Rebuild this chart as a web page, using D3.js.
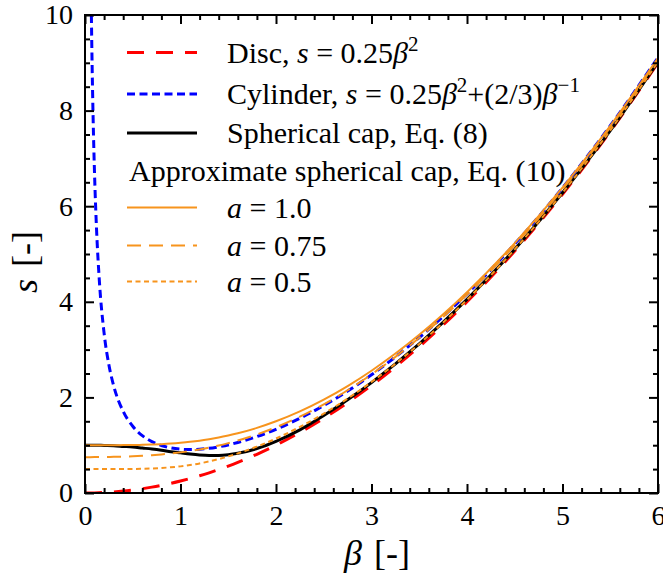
<!DOCTYPE html>
<html>
<head>
<meta charset="utf-8">
<script src="https://cdn.jsdelivr.net/npm/d3@7/dist/d3.min.js"></script>
<style>
  html, body { margin: 0; padding: 0; background: #ffffff; }
  svg { display: block; }
  svg text { font-family: "Liberation Serif", "Times New Roman", serif; }
</style>
</head>
<body>
<svg id="chart" width="663" height="580"></svg>
<script>
// ---------------- data ----------------
const betaGrid = [0, 0.1, 0.2, 0.3, 0.4, 0.5, 0.6, 0.7, 0.8, 0.9, 1.0, 1.1, 1.2, 1.3, 1.4, 1.5, 1.6, 1.8, 2.0, 2.25, 2.5, 2.75, 3.0, 3.5, 4.0, 4.5, 5.0, 5.5, 6.0];
const discS = [0, 0.0025, 0.01, 0.0225, 0.04, 0.0625, 0.09, 0.1225, 0.16, 0.2025, 0.25, 0.3025, 0.36, 0.4225, 0.49, 0.5625, 0.64, 0.81, 1.0, 1.266, 1.5625, 1.891, 2.25, 3.0625, 4.0, 5.0625, 6.25, 7.5625, 9.0];
const capS = [1.0, 1.0, 0.995, 0.99, 0.975, 0.96, 0.94, 0.92, 0.895, 0.865, 0.84, 0.815, 0.795, 0.785, 0.785, 0.80, 0.83, 0.93, 1.08, 1.32, 1.62, 1.95, 2.31, 3.12, 4.05, 5.1, 6.28, 7.58, 9.02];
const approxA10 = [1.0, 1.0, 1.0, 1.0, 1.002, 1.004, 1.007, 1.013, 1.022, 1.034, 1.05, 1.07, 1.095, 1.126, 1.161, 1.203, 1.25, 1.362, 1.5, 1.707, 1.953, 2.237, 2.558, 3.309, 4.2, 5.228, 6.388, 7.68, 9.1];
const approxA075 = [0.75, 0.751, 0.753, 0.756, 0.761, 0.768, 0.778, 0.791, 0.807, 0.826, 0.85, 0.878, 0.911, 0.95, 0.993, 1.043, 1.097, 1.224, 1.375, 1.597, 1.855, 2.15, 2.481, 3.247, 4.15, 5.186, 6.353, 7.65, 9.075];
const approxA05 = [0.5, 0.5, 0.5, 0.5, 0.501, 0.503, 0.507, 0.514, 0.524, 0.538, 0.557, 0.584, 0.618, 0.661, 0.71, 0.766, 0.828, 0.971, 1.139, 1.383, 1.661, 1.975, 2.323, 3.118, 4.044, 5.098, 6.279, 7.587, 9.02];

const cylBeta = [0.0667, 0.075, 0.085, 0.1, 0.12, 0.15, 0.2, 0.25, 0.3, 0.4, 0.5, 0.6, 0.7, 0.8, 0.9, 1.0, 1.1, 1.2, 1.4, 1.6, 1.8, 2.0, 2.5, 3.0, 3.5, 4.0, 4.5, 5.0, 5.5, 6.0];
const cylS = [10.0, 8.89, 7.845, 6.669, 5.559, 4.45, 3.343, 2.682, 2.245, 1.707, 1.396, 1.201, 1.075, 0.993, 0.943, 0.917, 0.909, 0.916, 0.966, 1.057, 1.18, 1.333, 1.829, 2.472, 3.253, 4.167, 5.211, 6.383, 7.684, 9.111];

const xMajorTicks = [0, 1, 2, 3, 4, 5, 6];
const yMajorTicks = [0, 2, 4, 6, 8, 10];

// ---------------- layout ----------------
const svg = d3.select("#chart");
const L = 85, R = 658, T = 15, B = 493;
const x = d3.scaleLinear().domain([0, 6]).range([L, R]);
const y = d3.scaleLinear().domain([0, 10]).range([B, T]);

const xMinor = d3.range(0, 6.0001, 0.2).map(v => +v.toFixed(2)).filter(v => !xMajorTicks.includes(v));
const yMinor = d3.range(0, 10.0001, 0.5).map(v => +v.toFixed(2)).filter(v => !yMajorTicks.includes(v));

svg.append("defs").append("clipPath").attr("id", "plotclip")
  .append("rect").attr("x", L).attr("y", T - 1).attr("width", R - L).attr("height", B - T + 1);

// ---------------- series ----------------
const series = [
  { b: betaGrid, s: discS, color: "#ff0000", w: 3, dash: "17,12" },
  { b: cylBeta, s: cylS, color: "#0000ff", w: 3, dash: "8,4.5" },
  { b: betaGrid, s: capS, color: "#000000", w: 3, dash: null },
  { b: betaGrid, s: approxA10, color: "#f7941d", w: 2, dash: null },
  { b: betaGrid, s: approxA075, color: "#f7941d", w: 2, dash: "14,8" },
  { b: betaGrid, s: approxA05, color: "#f7941d", w: 2, dash: "5,3.5" }
];

const line = d3.line().x(d => x(d[0])).y(d => y(d[1])).curve(d3.curveMonotoneX);
const gLines = svg.append("g").attr("clip-path", "url(#plotclip)");
series.forEach(sr => {
  const pts = sr.b.map((b, i) => [b, sr.s[i]]);
  gLines.append("path").datum(pts)
    .attr("d", line)
    .attr("fill", "none")
    .attr("stroke", sr.color)
    .attr("stroke-width", sr.w)
    .attr("stroke-dasharray", sr.dash)
    .attr("stroke-linejoin", "round");
});

// ---------------- axes ----------------
function styleAxis(g) {
  g.select(".domain").remove();
  g.attr("font-family", null);
  g.selectAll(".tick line").attr("stroke", "#000").attr("stroke-width", 2);
  g.selectAll(".tick text").attr("font-size", 28).attr("fill", "#000")
    .style("font-family", "'Liberation Serif', 'Times New Roman', serif");
}
// bottom
svg.append("g").attr("transform", `translate(0,${B})`)
  .call(d3.axisBottom(x).tickValues(xMajorTicks).tickSize(-9).tickPadding(12).tickFormat(d3.format("d")))
  .call(styleAxis);
svg.append("g").attr("transform", `translate(0,${B})`)
  .call(d3.axisBottom(x).tickValues(xMinor).tickSize(-5).tickFormat(""))
  .call(styleAxis);
// top
svg.append("g").attr("transform", `translate(0,${T})`)
  .call(d3.axisTop(x).tickValues(xMajorTicks).tickSize(-9).tickFormat(""))
  .call(styleAxis);
svg.append("g").attr("transform", `translate(0,${T})`)
  .call(d3.axisTop(x).tickValues(xMinor).tickSize(-5).tickFormat(""))
  .call(styleAxis);
// left
svg.append("g").attr("transform", `translate(${L},0)`)
  .call(d3.axisLeft(y).tickValues(yMajorTicks).tickSize(-9).tickPadding(12).tickFormat(d3.format("d")))
  .call(styleAxis);
svg.append("g").attr("transform", `translate(${L},0)`)
  .call(d3.axisLeft(y).tickValues(yMinor).tickSize(-5).tickFormat(""))
  .call(styleAxis);
// right
svg.append("g").attr("transform", `translate(${R},0)`)
  .call(d3.axisRight(y).tickValues(yMajorTicks).tickSize(-9).tickFormat(""))
  .call(styleAxis);
svg.append("g").attr("transform", `translate(${R},0)`)
  .call(d3.axisRight(y).tickValues(yMinor).tickSize(-5).tickFormat(""))
  .call(styleAxis);

// frame
svg.append("rect").attr("x", L).attr("y", T).attr("width", R - L).attr("height", B - T)
  .attr("fill", "none").attr("stroke", "#000").attr("stroke-width", 2);

// ---------------- axis titles ----------------
const xt = svg.append("text").attr("x", 377).attr("y", 565).attr("text-anchor", "middle")
  .attr("font-size", 36).attr("fill", "#000");
xt.append("tspan").attr("font-style", "italic").text("β");
xt.append("tspan").attr("dx", 12).text("[-]");

const yt = svg.append("text").attr("transform", "translate(37,262) rotate(-90)").attr("text-anchor", "middle")
  .attr("font-size", 36).attr("fill", "#000");
yt.append("tspan").attr("font-style", "italic").text("s");
yt.append("tspan").attr("dx", 12).text("[-]");

// ---------------- legend ----------------
const legendRows = [
  { y: 52.5, color: "#ff0000", w: 3, dash: "17,12" },
  { y: 94, color: "#0000ff", w: 3, dash: "8,4.5" },
  { y: 133, color: "#000000", w: 3, dash: null },
  { y: 207.5, color: "#f7941d", w: 2, dash: null },
  { y: 245.5, color: "#f7941d", w: 2, dash: "14,8" },
  { y: 281.5, color: "#f7941d", w: 2, dash: "5,3.5" }
];
const lg = svg.append("g").attr("font-size", 30).attr("fill", "#000");
legendRows.forEach(r => {
  lg.append("line").attr("x1", 127).attr("x2", 197).attr("y1", r.y).attr("y2", r.y)
    .attr("stroke", r.color).attr("stroke-width", r.w).attr("stroke-dasharray", r.dash);
});
const TX = 227;
function addText(yb, parts) {
  const t = lg.append("text").attr("x", TX).attr("y", yb);
  parts.forEach(p => {
    const ts = t.append("tspan").text(p.t);
    if (p.i) ts.attr("font-style", "italic");
    if (p.sup) ts.attr("font-size", 21).attr("dy", -12);
    if (p.down) ts.attr("dy", 12);
  });
  return t;
}
addText(62.5, [{ t: "Disc, " }, { t: "s", i: 1 }, { t: " = 0.25" }, { t: "β", i: 1 }, { t: "2", sup: 1 }]);
addText(104, [{ t: "Cylinder, " }, { t: "s", i: 1 }, { t: " = 0.25" }, { t: "β", i: 1 }, { t: "2", sup: 1 },
  { t: "+(2/3)", down: 1 }, { t: "β", i: 1 }, { t: "−1", sup: 1 }]);
addText(143, [{ t: "Spherical cap, Eq. (8)" }]);
lg.append("text").attr("x", 129).attr("y", 181).text("Approximate spherical cap, Eq. (10)");
addText(217.5, [{ t: "a", i: 1 }, { t: " = 1.0" }]);
addText(255.5, [{ t: "a", i: 1 }, { t: " = 0.75" }]);
addText(291.5, [{ t: "a", i: 1 }, { t: " = 0.5" }]);
</script>
</body>
</html>
